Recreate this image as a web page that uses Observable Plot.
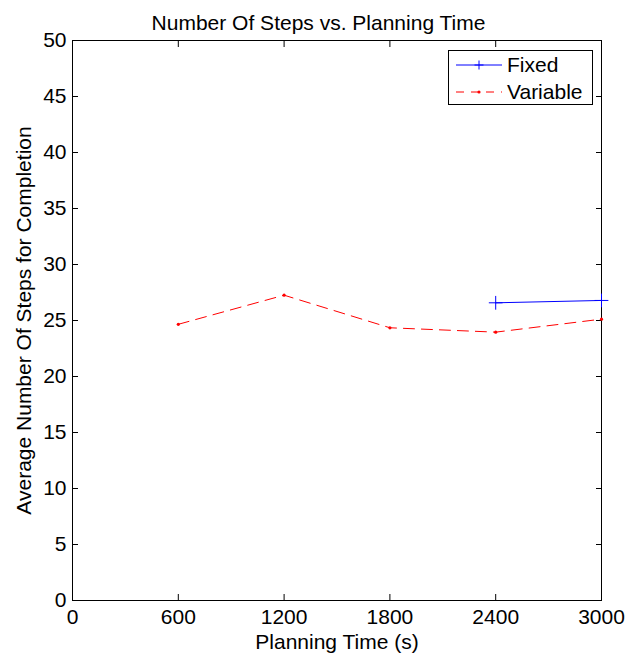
<!DOCTYPE html>
<html><head><meta charset="utf-8">
<script src="https://cdn.jsdelivr.net/npm/d3@7"></script>
<script src="https://cdn.jsdelivr.net/npm/@observablehq/plot@0.6"></script>
<style>
body{margin:0;background:#fff;font-family:"Liberation Sans",Arial,sans-serif}
#wrap{position:relative;width:638px;height:656px}
#legend{position:absolute;left:448px;top:50px;width:145px;height:55px;border:1px solid #000;background:#fff;box-sizing:border-box}
#legend .row{position:absolute;left:0;height:24px;display:flex;align-items:center;font-size:21px;color:#000;white-space:nowrap}
#legend svg{margin-left:7px;margin-right:5px}
</style>
</head><body><div id="wrap"></div>
<script>
const titleText = "Number Of Steps vs. Planning Time";
const xLabel = "Planning Time (s)";
const yLabel = "Average Number Of Steps for Completion";
const planningTime = [600, 1200, 1800, 2400, 3000];
const variableSteps = [24.66, 27.26, 24.35, 23.96, 25.12];
const fixedTime = [2400, 3000];
const fixedSteps = [26.58, 26.79];
const xTicks = [0, 600, 1200, 1800, 2400, 3000];
const yTicks = [0, 5, 10, 15, 20, 25, 30, 35, 40, 45, 50];
const seriesNames = ["Fixed", "Variable"];

const variable = planningTime.map((t, i) => ({t, s: variableSteps[i]}));
const fixed = fixedTime.map((t, i) => ({t, s: fixedSteps[i]}));
const fmt = d => String(d);

const chart = Plot.plot({
  width: 638, height: 656,
  marginLeft: 72, marginRight: 37, marginTop: 40, marginBottom: 56,
  style: {fontFamily: "'Liberation Sans', Arial, sans-serif", fontSize: "21px", color: "#000", background: "#fff"},
  x: {domain: [0, 3000]},
  y: {domain: [0, 50]},
  marks: [
    Plot.frame({stroke: "#000", strokeWidth: 1}),
    Plot.axisX(xTicks, {anchor: "bottom", tickSize: 0, tickPadding: 9, fontSize: 21, tickFormat: fmt, label: xLabel, labelAnchor: "center", labelArrow: "none", labelOffset: 48}),
    Plot.axisX(xTicks, {anchor: "bottom", tickSize: -6, text: null, label: null}),
    Plot.axisX(xTicks, {anchor: "top", tickSize: -6, text: null, label: null}),
    Plot.axisY(yTicks, {anchor: "left", tickSize: 0, tickPadding: 6, fontSize: 21, tickFormat: fmt, label: yLabel, labelAnchor: "center", labelArrow: "none", labelOffset: 56}),
    Plot.axisY(yTicks, {anchor: "left", tickSize: -6, text: null, label: null}),
    Plot.axisY(yTicks, {anchor: "right", tickSize: -6, text: null, label: null}),
    Plot.line(variable, {x: "t", y: "s", stroke: "#ff0000", strokeWidth: 1, strokeDasharray: "11,7"}),
    Plot.dot(variable, {x: "t", y: "s", r: 1.6, fill: "#ff0000", stroke: "none"}),
    Plot.line(fixed, {x: "t", y: "s", stroke: "#0000ff", strokeWidth: 1}),
    Plot.dot(fixed, {x: "t", y: "s", symbol: "plus", r: 4.5, stroke: "#0000ff", strokeWidth: 1}),
    Plot.text([titleText], {frameAnchor: "top", dy: -25, dx: -18.5, fontSize: 21})
  ]
});
document.getElementById("wrap").appendChild(chart);

const legend = document.createElement("div");
legend.id = "legend";
const styles = [
  {color: "#0000ff", dash: null, marker: "plus"},
  {color: "#ff0000", dash: "8,7", marker: "dot"}
];
seriesNames.forEach((name, i) => {
  const st = styles[i];
  const row = document.createElement("div");
  row.className = "row";
  row.style.top = (2 + i * 27) + "px";
  const ns = "http://www.w3.org/2000/svg";
  const svg = document.createElementNS(ns, "svg");
  svg.setAttribute("width", 46); svg.setAttribute("height", 12);
  const ln = document.createElementNS(ns, "line");
  ln.setAttribute("x1", 0); ln.setAttribute("x2", 46); ln.setAttribute("y1", 6); ln.setAttribute("y2", 6);
  ln.setAttribute("stroke", st.color);
  if (st.dash) ln.setAttribute("stroke-dasharray", st.dash);
  svg.appendChild(ln);
  if (st.marker === "plus") {
    const p = document.createElementNS(ns, "path");
    p.setAttribute("d", "M23,1.5V10.5M18.5,6H27.5");
    p.setAttribute("stroke", st.color);
    svg.appendChild(p);
  } else {
    const c = document.createElementNS(ns, "circle");
    c.setAttribute("cx", 23); c.setAttribute("cy", 6); c.setAttribute("r", 1.6);
    c.setAttribute("fill", st.color);
    svg.appendChild(c);
  }
  row.appendChild(svg);
  const span = document.createElement("span");
  span.textContent = name;
  row.appendChild(span);
  legend.appendChild(row);
});
document.getElementById("wrap").appendChild(legend);
</script>
</body></html>
